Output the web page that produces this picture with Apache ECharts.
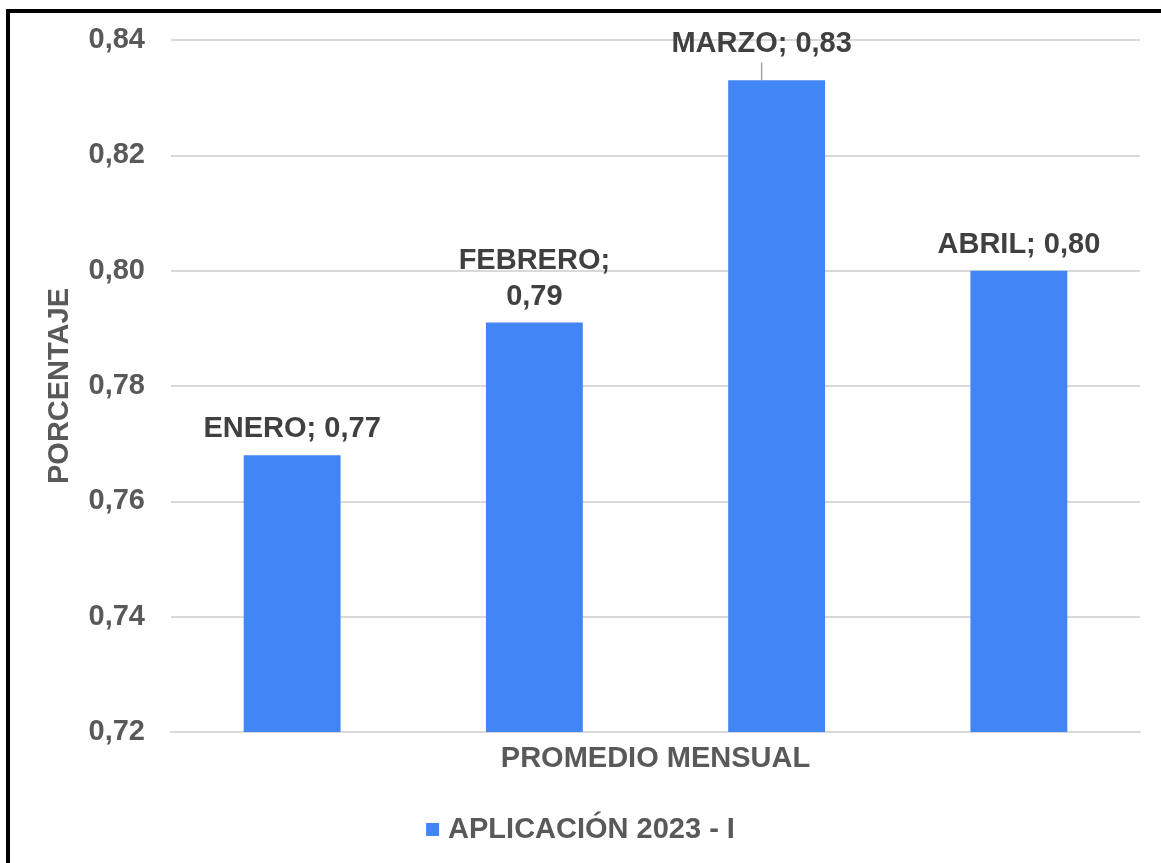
<!DOCTYPE html>
<html>
<head>
<meta charset="utf-8">
<script src="https://cdn.jsdelivr.net/npm/echarts@6/dist/echarts.min.js"></script>
<style>
  html, body { margin: 0; padding: 0; background: #fff; }
  #frame { position: absolute; left: 6px; top: 9px; width: 1200px; height: 900px; border: 4px solid #000; box-sizing: border-box; }
  #chart { position: absolute; left: 0; top: 0; width: 1161px; height: 863px; }
</style>
</head>
<body>
<div id="frame"></div>
<div id="chart"></div>
<script>
// data
var months = ["ENERO", "FEBRERO", "MARZO", "ABRIL"];
var values = [0.768, 0.791, 0.833, 0.800];
var seriesName = "APLICACIÓN 2023 - I";
var yTicks = [0.72, 0.74, 0.76, 0.78, 0.80, 0.82, 0.84];

var font = "Liberation Sans";
var fmt = function (v) { return v.toFixed(2).replace(".", ","); };

var chart = echarts.init(document.getElementById("chart"));

var barData = values.map(function (v, i) {
    var item = { value: v, name: months[i] };
    if (months[i] === "FEBRERO") {
        item.label = { formatter: months[i] + ";\n" + fmt(v) };
    }
    if (months[i] === "MARZO") {
        item.labelLine = { show: true, lineStyle: { color: "#a6a6a6", width: 1.5 } };
    }
    return item;
});

var option = {
    animation: false,
    grid: { left: 171, right: 21, top: 40, bottom: 131 },
    legend: {
        bottom: 14,
        left: "center",
        itemWidth: 13,
        itemHeight: 13,
        itemGap: 10,
        icon: "rect",
        textStyle: { fontFamily: font, fontSize: 29, fontWeight: "bold", color: "#595959", padding: [0, 0, 0, 4] },
        data: [seriesName]
    },
    xAxis: {
        type: "category",
        data: months,
        name: "PROMEDIO MENSUAL",
        nameLocation: "middle",
        nameGap: 12,
        nameTextStyle: { fontFamily: font, fontSize: 29, fontWeight: "bold", color: "#595959" },
        axisLine: { lineStyle: { color: "#d9d9d9", width: 2 } },
        axisTick: { show: false },
        axisLabel: { show: false }
    },
    yAxis: {
        type: "value",
        min: yTicks[0],
        max: yTicks[yTicks.length - 1],
        interval: 0.02,
        name: "PORCENTAJE",
        nameLocation: "middle",
        nameGap: 97,
        nameTextStyle: { fontFamily: font, fontSize: 29, fontWeight: "bold", color: "#595959" },
        axisLine: { show: false },
        axisTick: { show: false },
        splitLine: { lineStyle: { color: "#d9d9d9", width: 2 } },
        axisLabel: {
            margin: 26,
            fontFamily: font, fontSize: 29, fontWeight: "bold", color: "#595959",
            formatter: function (v) { return fmt(v); }
        }
    },
    series: [{
        name: seriesName,
        type: "bar",
        barWidth: "40%",
        itemStyle: { color: "#4285f4" },
        data: barData,
        label: {
            show: true,
            position: "top",
            distance: 8,
            fontFamily: font, fontSize: 29, fontWeight: "bold", color: "#404040",
            lineHeight: 36,
            formatter: function (p) { return p.name + "; " + fmt(p.value); }
        },
        labelLayout: function (p) {
            if (p.dataIndex === 2) return { dx: -15, dy: -10 };
        }
    }]
};

chart.setOption(option);
</script>
</body>
</html>
